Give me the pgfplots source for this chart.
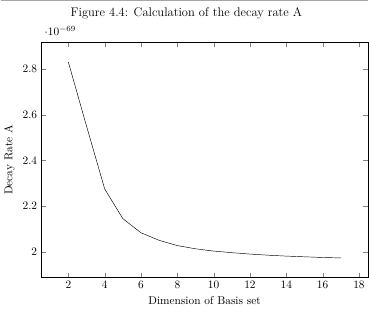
\documentclass[border=0pt]{standalone}
\usepackage{pgfplots}
\pgfplotsset{compat=1.18}
\usetikzlibrary{calc}
\begin{document}
\begin{tikzpicture}
\begin{axis}[
  scale only axis,
  width=288pt, height=207pt,
  title={\fontsize{11}{13}\selectfont Figure 4.4: Calculation of the decay rate A},
  title style={yshift=11pt, xshift=-16pt},
  xlabel={Dimension of Basis set},
  ylabel={Decay Rate A},
  xtick={2,4,...,18},
  ytick={2.0e-69,2.2e-69,2.4e-69,2.6e-69,2.8e-69},
]
\addplot[black, thin, mark=none] coordinates {
(2,2.83e-69) (3,2.55e-69) (4,2.275e-69) (5,2.145e-69) (6,2.083e-69) (7,2.05e-69)
(8,2.027e-69) (9,2.013e-69) (10,2.003e-69) (11,1.996e-69) (12,1.99e-69)
(13,1.985e-69) (14,1.981e-69) (15,1.978e-69) (16,1.975e-69) (17,1.973e-69)
};
\end{axis}
\path (current bounding box.north west) coordinate (TL) (current bounding box.north east) coordinate (TR);
\draw[gray!70, line width=1pt] ($(TL)+(0,3pt)$) -- ($(TR)+(0,3pt)$);
\end{tikzpicture}
\end{document}
